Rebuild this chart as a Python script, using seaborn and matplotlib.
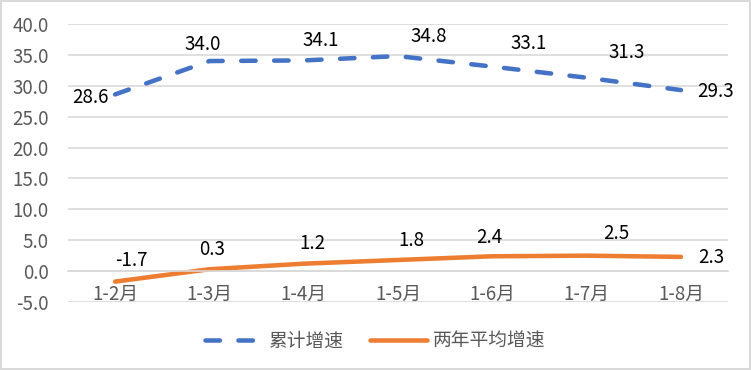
import pandas as pd
import seaborn as sns
import matplotlib.pyplot as plt

# data
months = ['1-2月', '1-3月', '1-4月', '1-5月', '1-6月', '1-7月', '1-8月']
cumulative = [28.6, 34.0, 34.1, 34.8, 33.1, 31.3, 29.3]
two_year_avg = [-1.7, 0.3, 1.2, 1.8, 2.4, 2.5, 2.3]
series_names = ['累计增速', '两年平均增速']
y_ticks = [-5, 0, 5, 10, 15, 20, 25, 30, 35, 40]

# label offsets in pixels (label centre relative to the point)
cum_offsets = [(-25, -3), (-7, 17), (17, 20), (31, 20), (36, 23), (40, 25), (35, -1)]
avg_offsets = [(16, 21), (3, 20), (9, 20), (13, 19), (-3, 19), (30, 22), (30, -1)]

df = pd.DataFrame({'month': months, 'cum': cumulative, 'avg': two_year_avg})

sns.set_style('white')
plt.rcParams['font.family'] = ['Noto Sans CJK SC', 'DejaVu Sans']

blue = '#4472C4'
orange = '#ED7D31'
grid = '#D9D9D9'
gray_text = '#595959'
fs = 13.5

fig = plt.figure(figsize=(7.51, 3.70), dpi=100, facecolor='white',
                 edgecolor=grid, linewidth=1.5)
ax = fig.add_axes([0.0905, 0.1838, 0.879, 0.7514])

sns.lineplot(data=df, x='month', y='cum', ax=ax, color=blue, lw=3.25,
             sort=False, label=series_names[0])
sns.lineplot(data=df, x='month', y='avg', ax=ax, color=orange, lw=3.25,
             sort=False, label=series_names[1])
ax.get_legend().remove()

blue_line, orange_line = ax.lines[0], ax.lines[1]
blue_line.set_linestyle((0, (3.2, 4.1)))
blue_line.set_dash_capstyle('round')
orange_line.set_solid_capstyle('round')

for i, v in enumerate(cumulative):
    ax.annotate(f'{v:.1f}', (i, v), xytext=cum_offsets[i], textcoords='offset pixels',
                ha='center', va='center', fontsize=fs, color='black')
for i, v in enumerate(two_year_avg):
    ax.annotate(f'{v:.1f}', (i, v), xytext=avg_offsets[i], textcoords='offset pixels',
                ha='center', va='center', fontsize=fs, color='black')

ax.set_ylim(-5, 40)
ax.set_xlim(-0.5, len(months) - 0.5)
ax.set_yticks(y_ticks)
ax.set_yticklabels([f'{t:.1f}' for t in y_ticks])
ax.yaxis.grid(True, color=grid, lw=1.2)
ax.set_axisbelow(True)
ax.set_xlabel('')
ax.set_ylabel('')

for s in ['top', 'right', 'left']:
    ax.spines[s].set_visible(False)
ax.spines['bottom'].set_position(('data', 0))
ax.spines['bottom'].set_color(grid)
ax.spines['bottom'].set_linewidth(1.2)

ax.tick_params(axis='y', length=0, pad=14, labelsize=fs, labelcolor=gray_text)
ax.tick_params(axis='x', length=0, pad=9, labelsize=fs, labelcolor=gray_text)

fig.legend([blue_line, orange_line], series_names, loc='center',
           bbox_to_anchor=(0.5, 0.078), ncol=2, frameon=False, fontsize=fs,
           labelcolor=gray_text, handlelength=3.0, handletextpad=0.35,
           columnspacing=1.45)

fig.savefig('out.png', dpi=100, facecolor='white', edgecolor=fig.get_edgecolor())
